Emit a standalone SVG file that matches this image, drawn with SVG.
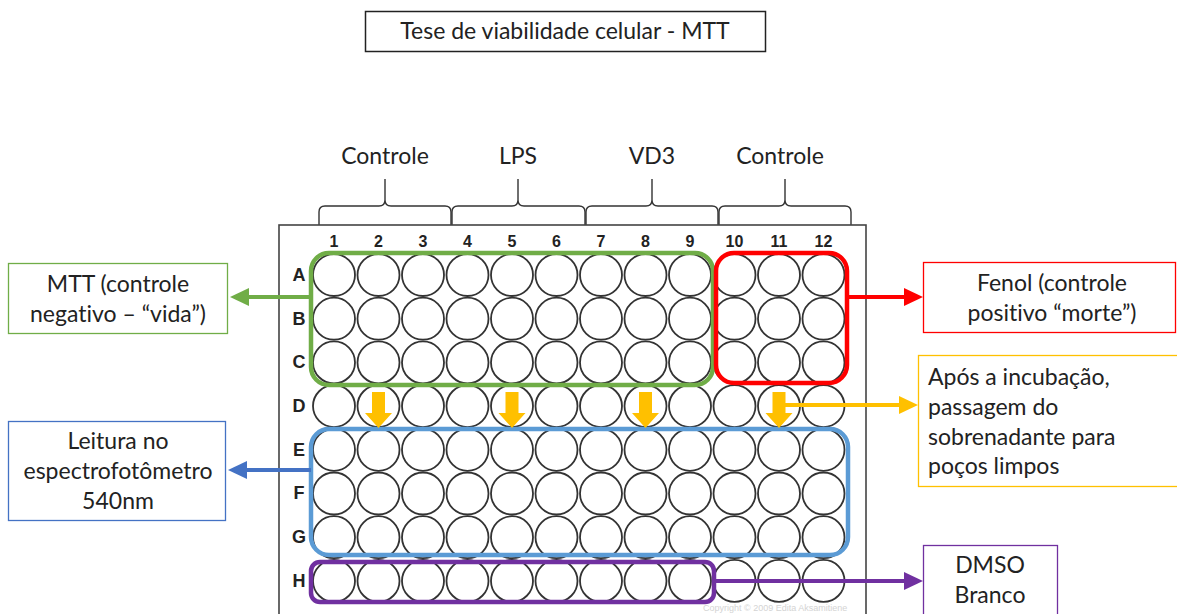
<svg xmlns="http://www.w3.org/2000/svg" width="1177" height="614" viewBox="0 0 1177 614">
  <style>
    .lbl { font-family: Lato, "Open Sans", sans-serif; font-size: 23px; fill: #222; font-variant-ligatures: none; }
    .mid { text-anchor: middle; }
    .hdr { font-family: "Liberation Sans", Arial, sans-serif; font-weight: bold; font-size: 16px; fill: #222; text-anchor: middle; }
    .row { font-family: "Liberation Sans", Arial, sans-serif; font-weight: bold; font-size: 18px; fill: #222; text-anchor: middle; }
    .well { fill: none; stroke: #333; stroke-width: 1.8; }
    .grp { fill: none; stroke-width: 4.5; }
    .brace { fill: none; stroke: #333; stroke-width: 1.4; }
    .box { fill: #fff; stroke-width: 1.3; }
    .conn { fill: none; stroke-width: 4; }
  </style>
  <defs>
    <marker id="ahGreen" markerUnits="userSpaceOnUse" markerWidth="20" markerHeight="20" refX="0" refY="10" orient="auto">
      <path d="M0,1 L19,10 L0,19 Z" fill="#70AD47"/>
    </marker>
    <marker id="ahRed" markerUnits="userSpaceOnUse" markerWidth="20" markerHeight="20" refX="0" refY="10" orient="auto">
      <path d="M0,1 L19,10 L0,19 Z" fill="#FF0000"/>
    </marker>
    <marker id="ahBlue" markerUnits="userSpaceOnUse" markerWidth="20" markerHeight="20" refX="0" refY="10" orient="auto">
      <path d="M0,1 L19,10 L0,19 Z" fill="#4472C4"/>
    </marker>
    <marker id="ahYellow" markerUnits="userSpaceOnUse" markerWidth="20" markerHeight="20" refX="0" refY="10" orient="auto">
      <path d="M0,1 L19,10 L0,19 Z" fill="#FFC000"/>
    </marker>
    <marker id="ahPurple" markerUnits="userSpaceOnUse" markerWidth="20" markerHeight="20" refX="0" refY="10" orient="auto">
      <path d="M0,1 L19,10 L0,19 Z" fill="#7030A0"/>
    </marker>
    <!-- block arrow pointing down, origin at shaft top centre -->
    <path id="downArrow" d="M-6.5,0 L6.5,0 L6.5,21 L13.5,21 L0,36 L-13.5,21 L-6.5,21 Z" fill="#FFC000"/>
    <circle id="w" r="21" class="well"/>
  </defs>

  <rect width="1177" height="614" fill="#fff"/>

  <!-- title -->
  <g id="title">
    <rect x="365.5" y="11.5" width="400" height="40" fill="#fff" stroke="#222" stroke-width="1.5"/>
    <text class="lbl mid" x="565" y="39">Tese de viabilidade celular - MTT</text>
  </g>

  <!-- treatment headers with braces -->
  <g id="headers">
    <text class="lbl mid" x="385" y="164">Controle</text>
    <text class="lbl mid" x="518" y="164">LPS</text>
    <text class="lbl mid" x="652" y="164">VD3</text>
    <text class="lbl mid" x="780" y="164">Controle</text>
    <path class="brace" d="M319,225 L319,212 Q319,206 325,206 L379,206 Q385,206 385,200 L385,179 M385,200 Q385,206 391,206 L445,206 Q451,206 451,212 L451,225"/>
    <path class="brace" d="M452,225 L452,212 Q452,206 458,206 L512,206 Q518,206 518,200 L518,179 M518,200 Q518,206 524,206 L579,206 Q585,206 585,212 L585,225"/>
    <path class="brace" d="M586,225 L586,212 Q586,206 592,206 L646,206 Q652,206 652,200 L652,179 M652,200 Q652,206 658,206 L712,206 Q718,206 718,212 L718,225"/>
    <path class="brace" d="M719,225 L719,212 Q719,206 725,206 L779,206 Q785,206 785,200 L785,179 M785,200 Q785,206 791,206 L845,206 Q851,206 851,212 L851,225"/>
  </g>

  <!-- 96-well plate -->
  <g id="plate">
    <rect x="279" y="225" width="587" height="420" fill="#fff" stroke="#444" stroke-width="1.6"/>
    <g id="colNumbers">
      <text class="hdr" x="334" y="247">1</text>
      <text class="hdr" x="378.5" y="247">2</text>
      <text class="hdr" x="423" y="247">3</text>
      <text class="hdr" x="467.5" y="247">4</text>
      <text class="hdr" x="512" y="247">5</text>
      <text class="hdr" x="556.5" y="247">6</text>
      <text class="hdr" x="601" y="247">7</text>
      <text class="hdr" x="645.5" y="247">8</text>
      <text class="hdr" x="690" y="247">9</text>
      <text class="hdr" x="734.5" y="247">10</text>
      <text class="hdr" x="779" y="247">11</text>
      <text class="hdr" x="823.5" y="247">12</text>
    </g>
    <g id="rowLetters">
      <text class="row" x="299" y="281">A</text>
      <text class="row" x="299" y="325">B</text>
      <text class="row" x="299" y="368">C</text>
      <text class="row" x="299" y="412">D</text>
      <text class="row" x="299" y="456">E</text>
      <text class="row" x="299" y="499">F</text>
      <text class="row" x="299" y="543">G</text>
      <text class="row" x="299" y="587">H</text>
    </g>
    <g id="wells">
      <g id="rowA" transform="translate(0,275)">
        <use href="#w" x="334"/><use href="#w" x="378.5"/><use href="#w" x="423"/><use href="#w" x="467.5"/>
        <use href="#w" x="512"/><use href="#w" x="556.5"/><use href="#w" x="601"/><use href="#w" x="645.5"/>
        <use href="#w" x="690"/><use href="#w" x="734.5"/><use href="#w" x="779"/><use href="#w" x="823.5"/>
      </g>
      <use href="#rowA" y="43.7"/>
      <use href="#rowA" y="87.4"/>
      <use href="#rowA" y="131.1"/>
      <use href="#rowA" y="174.8"/>
      <use href="#rowA" y="218.5"/>
      <use href="#rowA" y="262.2"/>
      <use href="#rowA" y="305.9"/>
    </g>
    <text x="703" y="611" font-family="'Liberation Sans', Arial, sans-serif" font-size="9" fill="#d4d4d4">Copyright © 2009 Edita Aksamitiene</text>
  </g>

  <!-- well groups -->
  <g id="groupLife"><rect class="grp" x="311" y="253" width="402" height="132" rx="18" stroke="#70AD47"/></g>
  <g id="groupDeath"><rect class="grp" x="716" y="253" width="131" height="130" rx="18" stroke="#FF0000"/></g>
  <g id="groupRead"><rect class="grp" x="311" y="429" width="537" height="126" rx="18" stroke="#5B9BD5"/></g>
  <g id="groupBlank"><rect class="grp" x="311" y="562" width="403" height="40" rx="9" stroke="#7030A0"/></g>

  <!-- transfer arrows row D -> E -->
  <g id="transfer">
    <use href="#downArrow" x="378.5" y="392"/>
    <use href="#downArrow" x="512" y="392"/>
    <use href="#downArrow" x="645.5" y="392"/>
    <use href="#downArrow" x="779" y="392"/>
  </g>

  <!-- connectors -->
  <g id="connectors">
    <line class="conn" x1="311" y1="297" x2="249" y2="297" stroke="#70AD47" marker-end="url(#ahGreen)"/>
    <line class="conn" x1="311" y1="470" x2="247" y2="470" stroke="#4472C4" marker-end="url(#ahBlue)"/>
    <line class="conn" x1="847" y1="297" x2="904" y2="297" stroke="#FF0000" marker-end="url(#ahRed)"/>
    <line class="conn" x1="785" y1="405" x2="899" y2="405" stroke="#FFC000" marker-end="url(#ahYellow)"/>
    <line class="conn" x1="714" y1="581" x2="904" y2="581" stroke="#7030A0" marker-end="url(#ahPurple)"/>
  </g>

  <!-- annotation boxes -->
  <g id="boxLife">
    <rect class="box" x="8.5" y="263.5" width="219" height="70" stroke="#70AD47"/>
    <text class="lbl mid" x="118" y="292">MTT (controle</text>
    <text class="lbl mid" x="118" y="322">negativo – “vida”)</text>
  </g>
  <g id="boxRead">
    <rect class="box" x="8.5" y="421.5" width="217" height="99" stroke="#4472C4"/>
    <text class="lbl mid" x="118" y="449">Leitura no</text>
    <text class="lbl mid" x="118" y="479">espectrofotômetro</text>
    <text class="lbl mid" x="118" y="509">540nm</text>
  </g>
  <g id="boxDeath">
    <rect class="box" x="923.5" y="262.5" width="252" height="70" stroke="#FF0000"/>
    <text class="lbl mid" x="1052" y="291">Fenol (controle</text>
    <text class="lbl mid" x="1052" y="321">positivo “morte”)</text>
  </g>
  <g id="boxTransfer">
    <rect class="box" x="918.5" y="355.5" width="270" height="131" stroke="#FFC000"/>
    <text class="lbl" x="928" y="385">Após a incubação,</text>
    <text class="lbl" x="928" y="415">passagem do</text>
    <text class="lbl" x="928" y="445">sobrenadante para</text>
    <text class="lbl" x="928" y="474">poços limpos</text>
  </g>
  <g id="boxBlank">
    <rect class="box" x="923.5" y="545.5" width="134" height="80" stroke="#7030A0"/>
    <text class="lbl mid" x="990" y="573">DMSO</text>
    <text class="lbl mid" x="990" y="603">Branco</text>
  </g>
</svg>
